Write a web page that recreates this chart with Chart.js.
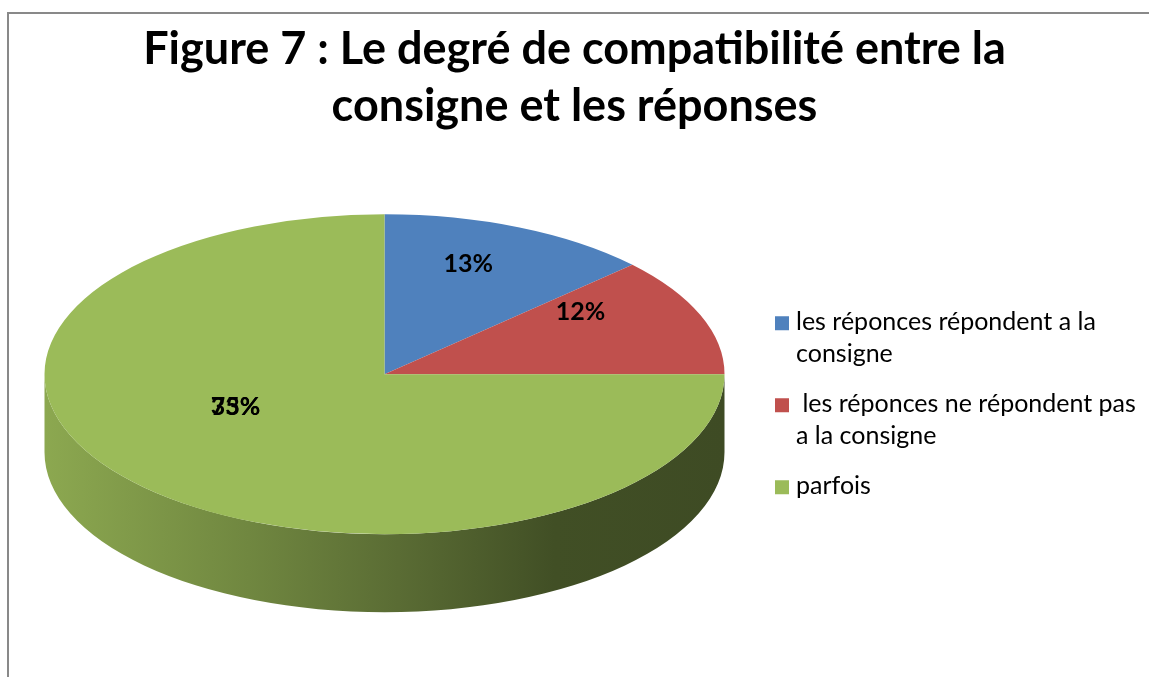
<!DOCTYPE html>
<html>
<head>
<meta charset="utf-8">
<script src="https://cdn.jsdelivr.net/npm/chart.js@4.4.0/dist/chart.umd.min.js"></script>
<style>
  html, body { margin: 0; padding: 0; background: #fff; overflow: hidden; }
  canvas { display: block; }
</style>
</head>
<body>
<canvas id="myChart" width="1149" height="677"></canvas>
<script>
const categories = ["les réponces répondent a la consigne", " les réponces ne répondent pas a la consigne", "parfois"];
const values = [13, 12, 75];
const colors = ["#4F81BD", "#C0504D", "#9BBB59"];
const titleLines = ["Figure 7 : Le degré de compatibilité entre la", "consigne et les réponses"];
// a leftover label that sits on top of the 75% one in the original
const strayLabel = "33%";

const SQUASH = 160 / 340;   // tilt of the pie
const DEPTH = 78;           // thickness of the side wall
const LABEL_FONT = "bold 25px Lato";
const LEGEND_FONT = "25px Lato";

function shade(hex, k) {
  const n = parseInt(hex.slice(1), 16);
  const r = Math.round(((n >> 16) & 255) * k);
  const g = Math.round(((n >> 8) & 255) * k);
  const b = Math.round((n & 255) * k);
  return "rgb(" + r + "," + g + "," + b + ")";
}

// draws the side wall, then squashes the pie into an ellipse
const pie3d = {
  id: "pie3d",
  beforeDraw(chart) {
    const ctx = chart.ctx;
    ctx.save();
    ctx.strokeStyle = "#898989";
    ctx.lineWidth = 2;
    ctx.beginPath();
    ctx.moveTo(8, 700);
    ctx.lineTo(8, 13);
    ctx.lineTo(1160, 13);
    ctx.stroke();
    ctx.restore();
  },
  beforeDatasetsDraw(chart) {
    const ctx = chart.ctx;
    const arcs = chart.getDatasetMeta(0).data;
    const cx = arcs[0].x, cy = arcs[0].y, r = arcs[0].outerRadius;
    const ry = r * SQUASH;
    ctx.save();
    arcs.forEach((arc, i) => {
      const a0 = Math.max(arc.startAngle, 0);
      const a1 = Math.min(arc.endAngle, Math.PI);
      if (a1 <= a0) return;
      const grad = ctx.createLinearGradient(cx - r, 0, cx + r, 0);
      grad.addColorStop(0, shade(colors[i], 0.9));
      grad.addColorStop(0.3, shade(colors[i], 0.72));
      grad.addColorStop(0.52, shade(colors[i], 0.58));
      grad.addColorStop(0.75, shade(colors[i], 0.42));
      grad.addColorStop(1, shade(colors[i], 0.4));
      ctx.fillStyle = grad;
      ctx.beginPath();
      ctx.ellipse(cx, cy, r, ry, 0, a0, a1);
      ctx.ellipse(cx, cy + DEPTH, r, ry, 0, a1, a0, true);
      ctx.closePath();
      ctx.fill();
    });
    ctx.translate(cx, cy);
    ctx.scale(1, SQUASH);
    ctx.translate(-cx, -cy);
  },
  afterDatasetsDraw(chart) {
    const ctx = chart.ctx;
    ctx.restore();
    const arcs = chart.getDatasetMeta(0).data;
    const total = values.reduce((a, b) => a + b, 0);
    ctx.save();
    ctx.font = LABEL_FONT;
    ctx.fillStyle = "#000";
    ctx.textAlign = "center";
    ctx.textBaseline = "middle";
    arcs.forEach((arc, i) => {
      const m = (arc.startAngle + arc.endAngle) / 2;
      const x = arc.x + 0.62 * arc.outerRadius * Math.cos(m);
      const y = arc.y + 0.55 * arc.outerRadius * SQUASH * Math.sin(m) - 30;
      const txt = Math.round(values[i] / total * 100) + "%";
      ctx.fillText(txt, x, y);
      if (i === arcs.length - 1) ctx.fillText(strayLabel, x, y);
    });
    ctx.restore();
  }
};

// legend on the right, with wrapped lines
const wrapLegend = {
  id: "wrapLegend",
  beforeInit(chart) {
    const box = {
      position: "right",
      weight: 0,
      fullSize: false,
      options: {},
      isHorizontal() { return false; },
      update(maxWidth, maxHeight) { this.width = 380; this.height = maxHeight; },
      draw() {
        const ctx = chart.ctx;
        ctx.save();
        ctx.font = LEGEND_FONT;
        ctx.textBaseline = "middle";
        const maxW = 345;
        const blocks = categories.map((label) => {
          const words = label.split(" ");
          const lines = [];
          let cur = words[0];
          for (let k = 1; k < words.length; k++) {
            const test = cur + " " + words[k];
            if (ctx.measureText(test).width > maxW && cur.trim() !== "") {
              lines.push(cur);
              cur = words[k];
            } else {
              cur = test;
            }
          }
          lines.push(cur);
          return lines;
        });
        const lineH = 32, gap = 18;
        let span = 0;
        blocks.forEach((b, i) => { span += (b.length - 1) * lineH; if (i < blocks.length - 1) span += lineH + gap; });
        let y = this.top + this.height / 2 + 30 - span / 2;
        const x = this.left + 6;
        blocks.forEach((lines, i) => {
          ctx.fillStyle = colors[i];
          ctx.fillRect(x, y - 6, 14, 14);
          ctx.fillStyle = "#000";
          lines.forEach((ln, j) => ctx.fillText(ln, x + 21, y + j * lineH));
          y += (lines.length - 1) * lineH + lineH + gap;
        });
        ctx.restore();
      }
    };
    Chart.layouts.addBox(chart, box);
  }
};

document.addEventListener("DOMContentLoaded", () => {
  const ctx = document.getElementById("myChart");
  new Chart(ctx, {
    type: "pie",
    data: {
      labels: categories,
      datasets: [
        {
          data: values,
          backgroundColor: colors,
          borderWidth: 0,
          hoverOffset: 0,
          clip: false,
        },
      ],
    },
    options: {
      responsive: false,
      animation: false,
      events: [],
      radius: 340,
      layout: { padding: { left: 0, right: 0, top: 0, bottom: 63.5 } },
      plugins: {
        legend: { display: false },
        tooltip: { enabled: false },
        title: {
          display: true,
          text: titleLines,
          color: "#000",
          font: { family: "Lato, sans-serif", size: 45, weight: "bold", lineHeight: 57 / 45 },
          padding: { top: 21, bottom: 0 },
        },
      },
    },
    plugins: [pie3d, wrapLegend],
  });
});
</script>
</body>
</html>
